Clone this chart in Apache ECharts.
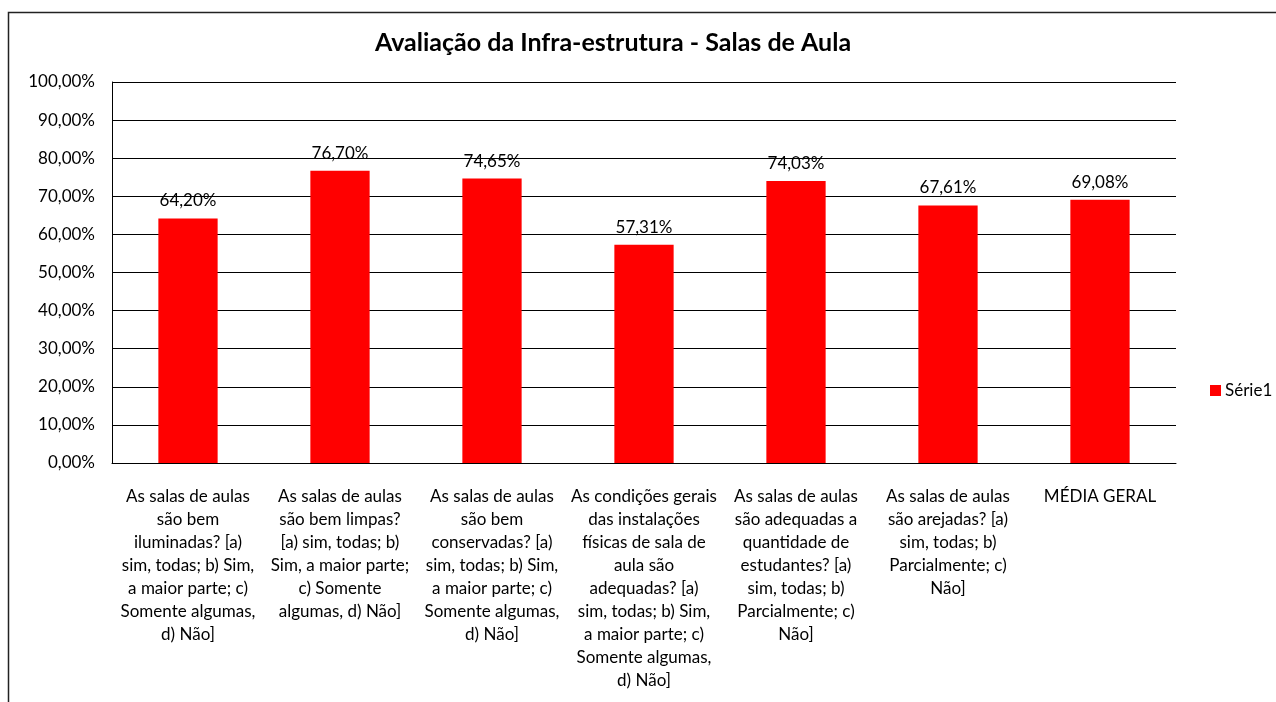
<!DOCTYPE html>
<html>
<head>
<meta charset="UTF-8"/>
<title>Avaliação da Infra-estrutura - Salas de Aula</title>
<script src="https://cdn.jsdelivr.net/npm/echarts@6/dist/echarts.min.js"></script>
<style>
html, body { margin: 0; padding: 0; background: #fff; }
#chart { width: 1276px; height: 702px; }
</style>
</head>
<body>
<div id="chart"></div>
<script>
var titulo = 'Avaliação da Infra-estrutura - Salas de Aula';
var serieNome = 'Série1';
// perguntas (eixo x), com as quebras de linha do original
var perguntas = [
  'As salas de aulas\nsão bem\niluminadas? [a)\nsim, todas; b) Sim,\na maior parte; c)\nSomente algumas,\nd) Não]',
  'As salas de aulas\nsão bem limpas?\n[a) sim, todas; b)\nSim, a maior parte;\nc) Somente\nalgumas, d) Não]',
  'As salas de aulas\nsão bem\nconservadas? [a)\nsim, todas; b) Sim,\na maior parte; c)\nSomente algumas,\nd) Não]',
  'As condições gerais\ndas instalações\nfísicas de sala de\naula são\nadequadas? [a)\nsim, todas; b) Sim,\na maior parte; c)\nSomente algumas,\nd) Não]',
  'As salas de aulas\nsão adequadas a\nquantidade de\nestudantes? [a)\nsim, todas; b)\nParcialmente; c)\nNão]',
  'As salas de aulas\nsão arejadas? [a)\nsim, todas; b)\nParcialmente; c)\nNão]',
  'MÉDIA GERAL'
];
var valores = [64.20, 76.70, 74.65, 57.31, 74.03, 67.61, 69.08];
var eixoMin = 0, eixoMax = 100, eixoPasso = 10;

function pct(v) { return v.toFixed(2).replace('.', ',') + '%'; }

var fonte = 'Lato, "Open Sans", sans-serif';
var myChart = echarts.init(document.getElementById('chart'));
var option = {
  animation: false,
  textStyle: { fontFamily: fonte, color: '#000' },
  title: {
    text: titulo,
    left: 608, top: 25,
    textAlign: 'center',
    textStyle: { fontFamily: fonte, fontSize: 25, fontWeight: 'bold', color: '#000' }
  },
  legend: {
    data: [serieNome],
    orient: 'vertical',
    left: 1205, top: 377,
    itemWidth: 11, itemHeight: 11, itemGap: 6,
    icon: 'rect',
    textStyle: { fontFamily: fonte, fontSize: 17, color: '#000', padding: [0, 0, 0, -1] }
  },
  grid: { left: 112, top: 82, right: 100, bottom: 239, containLabel: false },
  graphic: [{
    type: 'rect',
    shape: { x: 8.5, y: 12.5, width: 1400, height: 900 },
    style: { fill: 'none', stroke: '#222', lineWidth: 1.5 },
    silent: true
  }],
  xAxis: {
    type: 'category',
    data: perguntas,
    axisLine: { show: true, lineStyle: { color: '#000', width: 1 } },
    axisTick: { show: false },
    axisLabel: {
      interval: 0, margin: 22,
      fontFamily: fonte, fontSize: 17, lineHeight: 23, color: '#000', align: 'center'
    }
  },
  yAxis: {
    type: 'value',
    min: eixoMin, max: eixoMax, interval: eixoPasso,
    axisLine: { show: true, lineStyle: { color: '#000', width: 1 } },
    axisTick: { show: false },
    splitLine: { lineStyle: { color: '#000', width: 1 } },
    axisLabel: { formatter: pct, margin: 17, fontFamily: fonte, fontSize: 17, color: '#000' }
  },
  series: [{
    name: serieNome,
    type: 'bar',
    data: valores,
    barWidth: '39%',
    itemStyle: { color: '#ff0000' },
    label: {
      show: true, position: 'top', distance: 9,
      formatter: function (p) { return pct(p.value); },
      fontFamily: fonte, fontSize: 17, color: '#000'
    }
  }]
};
myChart.setOption(option);
</script>
</body>
</html>
